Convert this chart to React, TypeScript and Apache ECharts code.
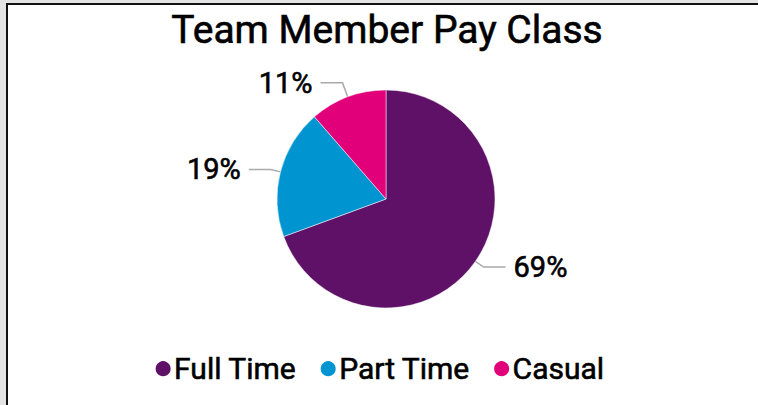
import React, { useEffect, useRef } from "react";
import * as echarts from "echarts";

const categories = ["Full Time", "Part Time", "Casual"];
const values = [69.4, 19.2, 11.4];
const colors = ["#5F1168", "#0094D0", "#E2007A"];
const lineLengths = [10, 10, 15];
const titleText = "Team Member Pay Class";

export default function App() {
  const ref = useRef<HTMLDivElement>(null);
  useEffect(() => {
    document.body.style.margin = "0";
    const chart = echarts.init(ref.current!, null, { renderer: "svg" });
    const font = "Roboto";
    const thick = { textBorderColor: "#000", textBorderWidth: 0.6 };
    chart.setOption({
      animation: false,
      title: {
        text: titleText,
        left: 382,
        textAlign: "center",
        top: 5,
        textStyle: { fontFamily: font, fontSize: 39, fontWeight: "normal", color: "#000", ...thick },
      },
      legend: {
        data: categories,
        bottom: 16,
        left: "center",
        icon: "circle",
        itemWidth: 18,
        itemHeight: 17,
        itemGap: 22,
        textStyle: { fontFamily: font, fontSize: 30, fontWeight: "normal", color: "#000", padding: [0, 0, 0, -3], ...thick },
      },
      series: [
        {
          type: "pie",
          center: [386, 199],
          radius: 109,
          startAngle: 90,
          clockwise: true,
          itemStyle: { borderColor: "#fff", borderWidth: 0.5 },
          label: {
            show: true,
            position: "outside",
            fontFamily: font,
            fontSize: 29,
            fontWeight: "normal",
            color: "#000",
            distanceToLabelLine: 8,
            ...thick,
            formatter: (p: any) => Math.round(p.percent) + "%",
          },
          labelLine: { show: true, length: 10, length2: 22, lineStyle: { color: "#aaaaaa", width: 1.5 } },
          data: categories.map((c, i) => ({
            name: c,
            value: values[i],
            itemStyle: { color: colors[i] },
            labelLine: { length: lineLengths[i] },
          })),
        },
      ],
    });
    return () => chart.dispose();
  }, []);
  return (
    <div style={{ position: "relative", width: 758, height: 405, background: "#e4e4e4", overflow: "hidden" }}>
      <div
        style={{
          position: "absolute",
          left: 6,
          top: 3,
          width: 752,
          height: 402,
          background: "#fff",
          borderLeft: "2px solid #111",
          borderTop: "2px solid #111",
        }}
      />
      <div ref={ref} style={{ position: "absolute", left: 0, top: 0, width: 758, height: 405 }} />
    </div>
  );
}
